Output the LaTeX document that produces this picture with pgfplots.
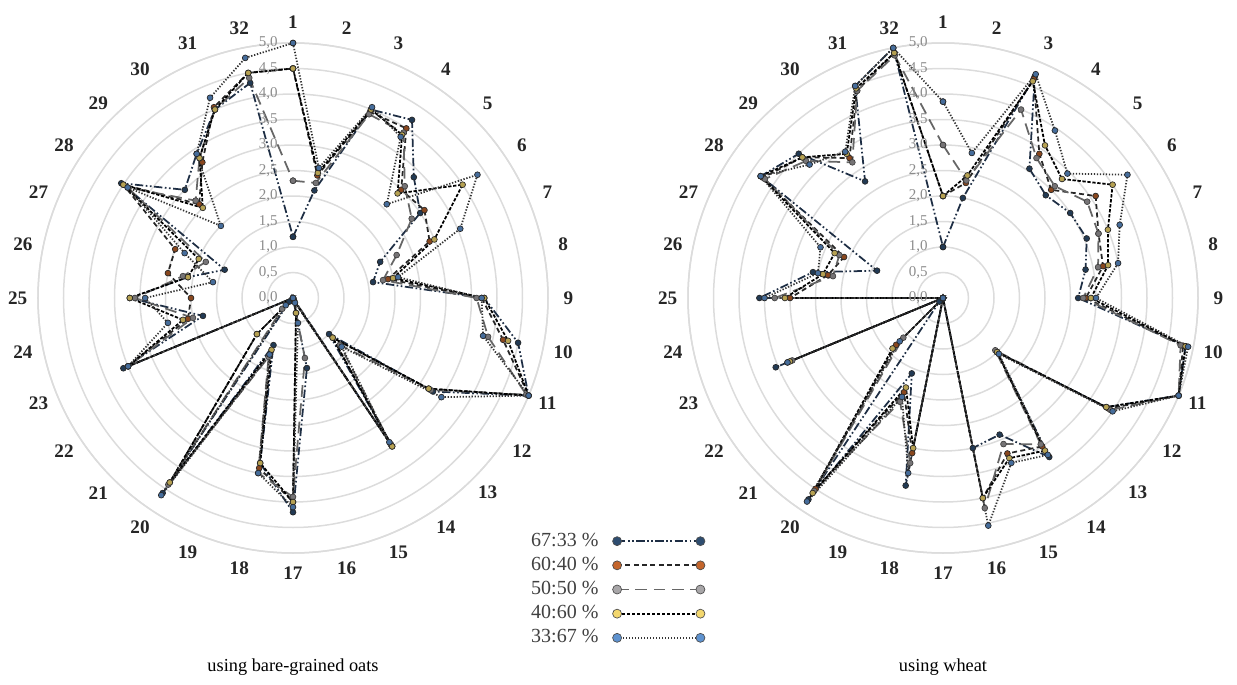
\documentclass[border=0pt]{standalone}
\usepackage{fontspec}
\setmainfont{Liberation Serif}
\usepackage{pgfplots}
\usepackage{pgfplotstable}
\pgfplotsset{compat=1.18}
\usepgfplotslibrary{polar}

\definecolor{cD}{HTML}{2E4D70}
\definecolor{cO}{HTML}{C4652B}
\definecolor{cG}{HTML}{A8A6A8}
\definecolor{cY}{HTML}{F3D76E}
\definecolor{cL}{HTML}{5E92CF}
\definecolor{gridc}{HTML}{DCDCDC}
\definecolor{tickc}{HTML}{8C8C8C}
\definecolor{lineD}{HTML}{1E2E44}

% bare-grained oats: cat, 67:33, 60:40, 50:50, 40:60, 33:67
\pgfplotstableread{
cat D O G Y L
1 1.2 4.5 2.3 4.5 5.0
2 2.15 2.45 2.3 2.5 2.6
3 4.0 3.95 3.9 4.0 4.05
4 4.2 4.0 3.9 3.85 3.8
5 3.35 3.0 3.1 2.9 2.6
6 3.0 3.1 2.8 4.0 4.35
7 1.85 2.9 2.2 3.0 3.55
8 1.6 1.9 1.8 2.0 2.1
9 3.75 3.7 3.6 3.75 3.7
10 4.5 4.2 3.9 4.3 3.8
11 5.0 5.0 4.95 5.0 5.0
12 3.3 3.2 3.25 3.2 3.5
13 1.0 1.1 1.3 1.1 1.35
14 3.5 3.45 3.45 3.5 3.4
15 0.0 0.05 0.0 0.05 0.1
16 1.4 0.3 1.2 0.3 0.5
17 4.2 4.0 3.9 4.0 4.1
18 3.3 3.4 3.5 3.3 3.5
19 1.0 1.2 1.25 1.1 1.2
20 4.6 4.35 4.4 4.35 4.65
21 0.1 1.0 0.3 1.0 0.2
22 0.0 0.0 0.0 0.0 0.0
23 3.6 3.5 3.5 3.5 3.5
24 1.8 2.1 2.0 2.2 2.5
25 3.2 2.0 3.1 3.2 2.9
26 2.1 2.5 2.2 2.1 1.6
27 1.45 2.5 1.85 2.0 2.3
28 4.05 4.0 3.9 4.0 3.9
29 3.0 2.6 2.7 2.5 2.0
30 3.4 3.2 3.3 3.3 3.4
31 4.0 4.05 4.0 4.0 4.25
32 4.3 4.5 4.4 4.5 4.8
33 1.2 4.5 2.3 4.5 5.0
}\oats

% wheat
\pgfplotstableread{
cat D O G Y L
1 1.0 2.0 3.0 2.0 3.85
2 2.0 2.3 2.35 2.45 2.9
3 4.7 4.65 4.0 4.6 4.75
4 3.05 3.4 3.3 3.6 3.95
5 2.85 3.0 3.1 3.3 3.45
6 3.0 3.6 3.4 4.0 4.35
7 3.05 3.3 3.3 3.5 3.75
8 2.85 3.2 3.1 3.3 3.5
9 2.65 2.8 2.75 2.9 3.0
10 4.85 4.8 4.75 4.85 4.9
11 5.0 5.0 5.0 5.0 5.0
12 3.85 3.9 3.95 3.85 4.0
13 1.5 1.5 1.45 1.5 1.55
14 3.75 3.5 3.45 3.6 3.7
15 2.9 3.3 3.1 3.4 3.5
16 3.0 4.0 4.2 4.0 4.55
17 0.0 0.0 0.0 0.0 0.0
18 3.75 3.1 3.3 3.0 3.5
19 1.6 2.0 2.2 1.9 2.1
20 4.75 4.5 4.55 4.6 4.8
21 0.1 1.3 1.1 1.4 1.2
22 0.0 0.0 0.0 0.0 0.0
23 3.55 3.3 3.2 3.25 3.3
24 0.0 0.0 0.0 0.0 0.0
25 3.6 3.0 3.3 3.1 3.5
26 2.6 2.3 2.2 2.4 2.5
27 1.4 2.1 2.2 2.3 2.6
28 4.3 4.25 4.2 4.3 4.3
29 4.0 3.9 3.8 3.9 3.7
30 2.75 3.3 3.2 3.4 3.45
31 4.5 4.4 4.4 4.45 4.5
32 5.0 4.9 4.85 4.9 5.0
33 1.0 2.0 3.0 2.0 3.85
}\wheat

\tikzset{
  rl/.style={anchor=east, xshift=-8.5pt, font=\fontsize{9}{10}\selectfont, text=tickc, inner sep=0.5pt},
  cl/.style={anchor=center, font=\bfseries\fontsize{11.5}{12}\selectfont, text=black!85, inner sep=0pt},
}

\pgfplotsset{
  radar/.style={
    width=306pt, height=306pt, scale only axis,
    xmin=0, xmax=360, ymin=0, ymax=5,
    xtick=\empty,
    ytick={0.5,1,...,5},
    yticklabels={},
    xmajorgrids=false, xminorgrids=false, ymajorgrids=true,
    y grid style={gridc, line width=0.9pt},
    x axis line style={gridc, line width=0.9pt},
    y axis line style={draw=none},
    major tick length=0pt,
    clip=false,
  },
  ser/.style={line width=1.05pt, mark=*, mark size=1.75pt},
  sD/.style={ser, color=lineD, dash pattern=on 5pt off 1.5pt on 1pt off 1.5pt on 1pt off 1.5pt,
    mark options={solid, fill=cD!75!black, draw=black!85, line width=0.4pt}},
  sO/.style={ser, color=black!85, dash pattern=on 3pt off 2pt,
    mark options={solid, fill=cO!70!black, draw=black!85, line width=0.4pt}},
  sG/.style={ser, color=black!60, dash pattern=on 7pt off 4pt,
    mark options={solid, fill=cG!70!black, draw=black!75, line width=0.4pt}},
  sY/.style={ser, color=black, dash pattern=on 2pt off 1pt,
    mark options={solid, fill=cY!75!black, draw=black!85, line width=0.4pt}},
  sL/.style={ser, color=black!80, dash pattern=on 0.8pt off 1pt,
    mark options={solid, fill=cL!75!black, draw=black!85, line width=0.4pt}},
  lgD/.style={sD, mark options={solid, fill=cD, draw=black!70, line width=0.4pt}},
  lgO/.style={sO, mark options={solid, fill=cO, draw=black!70, line width=0.4pt}},
  lgG/.style={sG, mark options={solid, fill=cG, draw=black!70, line width=0.4pt}},
  lgY/.style={sY, mark options={solid, fill=cY, draw=black!70, line width=0.4pt}},
  lgL/.style={sL, mark options={solid, fill=cL, draw=black!70, line width=0.4pt}},
}

\newcommand\rlabels{%
  \node[rl] at (axis cs:90,0) {0,0};
  \node[rl] at (axis cs:90,0.5) {0,5};
  \node[rl] at (axis cs:90,1) {1,0};
  \node[rl] at (axis cs:90,1.5) {1,5};
  \node[rl] at (axis cs:90,2) {2,0};
  \node[rl] at (axis cs:90,2.5) {2,5};
  \node[rl] at (axis cs:90,3) {3,0};
  \node[rl] at (axis cs:90,3.5) {3,5};
  \node[rl] at (axis cs:90,4) {4,0};
  \node[rl] at (axis cs:90,4.5) {4,5};
  \node[rl] at (axis cs:90,5) {5,0};
}
\def\lr{5.4}
\newcommand\clabels{%
  \node[cl] at (axis cs:90,\lr) {1};
  \node[cl] at (axis cs:78.75,\lr) {2};
  \node[cl] at (axis cs:67.5,\lr) {3};
  \node[cl] at (axis cs:56.25,\lr) {4};
  \node[cl] at (axis cs:45,\lr) {5};
  \node[cl] at (axis cs:33.75,\lr) {6};
  \node[cl] at (axis cs:22.5,\lr) {7};
  \node[cl] at (axis cs:11.25,\lr) {8};
  \node[cl] at (axis cs:0,\lr) {9};
  \node[cl] at (axis cs:-11.25,\lr) {10};
  \node[cl] at (axis cs:-22.5,\lr) {11};
  \node[cl] at (axis cs:-33.75,\lr) {12};
  \node[cl] at (axis cs:-45,\lr) {13};
  \node[cl] at (axis cs:-56.25,\lr) {14};
  \node[cl] at (axis cs:-67.5,\lr) {15};
  \node[cl] at (axis cs:-78.75,\lr) {16};
  \node[cl] at (axis cs:-90,\lr) {17};
  \node[cl] at (axis cs:-101.25,\lr) {18};
  \node[cl] at (axis cs:-112.5,\lr) {19};
  \node[cl] at (axis cs:-123.75,\lr) {20};
  \node[cl] at (axis cs:-135,\lr) {21};
  \node[cl] at (axis cs:-146.25,\lr) {22};
  \node[cl] at (axis cs:-157.5,\lr) {23};
  \node[cl] at (axis cs:-168.75,\lr) {24};
  \node[cl] at (axis cs:180,\lr) {25};
  \node[cl] at (axis cs:168.75,\lr) {26};
  \node[cl] at (axis cs:157.5,\lr) {27};
  \node[cl] at (axis cs:146.25,\lr) {28};
  \node[cl] at (axis cs:135,\lr) {29};
  \node[cl] at (axis cs:123.75,\lr) {30};
  \node[cl] at (axis cs:112.5,\lr) {31};
  \node[cl] at (axis cs:101.25,\lr) {32};
}

\begin{document}
\begin{tikzpicture}
\path[use as bounding box] (0,0) rectangle (742.2pt,410.4pt);
\begin{polaraxis}[radar, at={(175.8pt,231.6pt)}, anchor=center,
  legend plot pos=right,
  legend cell align=left,
  legend image code/.code={\draw[#1, mark size=2.7pt] plot coordinates {(0pt,0pt) (50pt,0pt)};},
  legend style={at={(axis description cs:0.955,0.05)}, anchor=north west, draw=none, fill=none,
    font=\fontsize{12}{13}\selectfont, text=black!75,
    nodes={inner sep=0.5pt, text height=8.5pt, text depth=2.5pt},
    row sep=2.5pt,
    /tikz/every odd column/.append style={column sep=8pt}},
]
\addplot[sD, forget plot] table[x expr={90-(\thisrow{cat}-1)*11.25}, y=D] {\oats};
\addplot[sO, forget plot] table[x expr={90-(\thisrow{cat}-1)*11.25}, y=O] {\oats};
\addplot[sG, forget plot] table[x expr={90-(\thisrow{cat}-1)*11.25}, y=G] {\oats};
\addplot[sY, forget plot] table[x expr={90-(\thisrow{cat}-1)*11.25}, y=Y] {\oats};
\addplot[sL, forget plot] table[x expr={90-(\thisrow{cat}-1)*11.25}, y=L] {\oats};
\addlegendimage{lgD}\addlegendentry{67:33 \%}
\addlegendimage{lgO}\addlegendentry{60:40 \%}
\addlegendimage{lgG}\addlegendentry{50:50 \%}
\addlegendimage{lgY}\addlegendentry{40:60 \%}
\addlegendimage{lgL}\addlegendentry{33:67 \%}
\rlabels
\clabels
\end{polaraxis}
\begin{polaraxis}[radar, at={(565.8pt,231.6pt)}, anchor=center]
\addplot[sD] table[x expr={90-(\thisrow{cat}-1)*11.25}, y=D] {\wheat};
\addplot[sO] table[x expr={90-(\thisrow{cat}-1)*11.25}, y=O] {\wheat};
\addplot[sG] table[x expr={90-(\thisrow{cat}-1)*11.25}, y=G] {\wheat};
\addplot[sY] table[x expr={90-(\thisrow{cat}-1)*11.25}, y=Y] {\wheat};
\addplot[sL] table[x expr={90-(\thisrow{cat}-1)*11.25}, y=L] {\wheat};
\rlabels
\clabels
\end{polaraxis}
\node[font=\fontsize{11}{13}\selectfont] at (175.8pt,10.2pt) {using bare-grained oats};
\node[font=\fontsize{11}{13}\selectfont] at (565.8pt,10.2pt) {using wheat};
\end{tikzpicture}
\end{document}
